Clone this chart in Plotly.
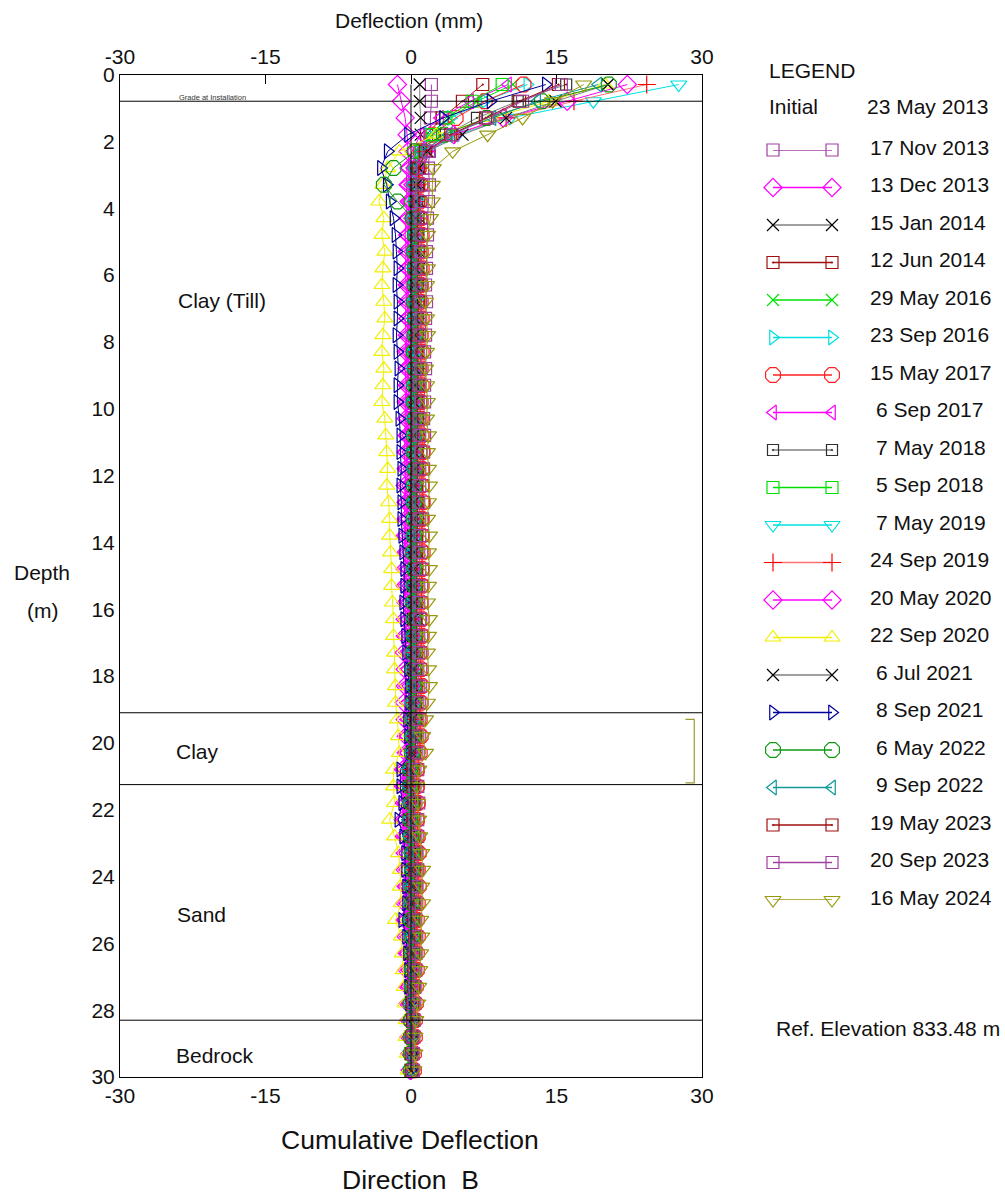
import plotly.graph_objects as go

DEPTH = [0.3, 0.8, 1.3, 1.8, 2.3, 2.8, 3.3, 3.8, 4.3, 4.8,
         5.3, 5.8, 6.3, 6.8, 7.3, 7.8, 8.3, 8.8, 9.3, 9.8,
         10.3, 10.8, 11.3, 11.8, 12.3, 12.8, 13.3, 13.8, 14.3, 14.8,
         15.3, 15.8, 16.3, 16.8, 17.3, 17.8, 18.3, 18.8, 19.3, 19.8,
         20.3, 20.8, 21.3, 21.8, 22.3, 22.8, 23.3, 23.8, 24.3, 24.8,
         25.3, 25.8, 26.3, 26.8, 27.3, 27.8, 28.3, 28.8, 29.3, 29.8]

INITIAL = [0.0] * 60

D_17NOV2013 = [2.1, 2.1, 2.0, 2.0, 1.9, 1.8, 1.9, 1.8, 1.7, 1.7,
               1.6, 1.6, 1.5, 1.6, 1.5, 1.5, 1.4, 1.5, 1.4, 1.4,
               1.3, 1.4, 1.3, 1.3, 1.2, 1.3, 1.2, 1.2, 1.1, 1.2,
               1.1, 1.1, 1.0, 1.1, 1.0, 1.0, 1.0, 0.9, 0.9, 0.9,
               0.8, 0.7, 0.7, 0.8, 0.7, 0.7, 0.6, 0.7, 0.6, 0.6,
               0.5, 0.6, 0.5, 0.5, 0.4, 0.4, 0.3, 0.3, 0.2, 0.2]
D_13DEC2013 = [-1.4, -1.0, -0.6, -0.4, -0.3, -0.2, -0.3, -0.2, -0.3, -0.3,
               -0.4, -0.3, -0.4, -0.4, -0.3, -0.4, -0.5, -0.4, -0.4, -0.5,
               -0.5, -0.4, -0.5, -0.5, -0.6, -0.5, -0.5, -0.6, -0.5, -0.6,
               -0.6, -0.5, -0.6, -0.6, -0.7, -0.6, -0.6, -0.7, -0.6, -0.5,
               -0.5, -0.8, -0.8, -0.7, -0.8, -0.7, -0.6, -0.6, -0.5, -0.6,
               -0.6, -0.5, -0.4, -0.4, -0.3, -0.3, -0.2, -0.2, -0.1, -0.1]
D_15JAN2014 = [0.9, 0.9, 1.0, 1.0, 1.1, 0.9, 0.9, 0.8, 0.9, 0.8,
               0.8, 0.9, 0.8, 0.8, 0.7, 0.8, 0.8, 0.7, 0.8, 0.7,
               0.7, 0.7, 0.8, 0.7, 0.6, 0.7, 0.7, 0.6, 0.7, 0.6,
               0.6, 0.6, 0.7, 0.6, 0.6, 0.5, 0.6, 0.6, 0.5, 0.5,
               0.4, 0.3, 0.3, 0.4, 0.3, 0.4, 0.4, 0.3, 0.4, 0.3,
               0.3, 0.3, 0.3, 0.2, 0.2, 0.2, 0.1, 0.1, 0.1, 0.0]
D_12JUN2014 = [7.4, 5.3, 3.2, 1.6, 0.9, 0.7, 0.8, 0.6, 0.7, 0.6,
               0.7, 0.6, 0.6, 0.7, 0.6, 0.5, 0.6, 0.6, 0.5, 0.6,
               0.6, 0.5, 0.5, 0.6, 0.5, 0.5, 0.6, 0.5, 0.5, 0.5,
               0.5, 0.4, 0.5, 0.5, 0.4, 0.5, 0.4, 0.4, 0.5, 0.4,
               0.3, 0.2, 0.2, 0.3, 0.2, 0.3, 0.3, 0.3, 0.2, 0.3,
               0.2, 0.3, 0.2, 0.2, 0.2, 0.1, 0.1, 0.1, 0.0, 0.0]
D_29MAY2016 = [10.5, 6.8, 3.9, 1.9, 0.8, 0.5, 0.4, 0.5, 0.4, 0.4,
               0.5, 0.4, 0.3, 0.4, 0.4, 0.3, 0.4, 0.3, 0.3, 0.4,
               0.3, 0.3, 0.4, 0.3, 0.3, 0.2, 0.3, 0.3, 0.2, 0.3,
               0.3, 0.2, 0.3, 0.2, 0.2, 0.3, 0.2, 0.2, 0.3, 0.2,
               0.1, 0.0, 0.0, 0.1, 0.0, 0.1, 0.2, 0.1, 0.2, 0.1,
               0.1, 0.2, 0.1, 0.1, 0.1, 0.1, 0.0, 0.1, 0.0, 0.0]
D_23SEP2016 = [12.0, 7.6, 4.1, 1.8, 0.6, 0.2, 0.1, 0.2, 0.3, 0.2,
               0.3, 0.2, 0.2, 0.3, 0.2, 0.2, 0.1, 0.2, 0.2, 0.1,
               0.2, 0.2, 0.1, 0.2, 0.1, 0.1, 0.2, 0.1, 0.1, 0.2,
               0.1, 0.1, 0.0, 0.1, 0.1, 0.0, 0.1, 0.1, 0.0, 0.0,
               -0.1, -0.3, -0.3, -0.2, -0.3, -0.2, -0.1, -0.1, 0.0, -0.1,
               -0.2, 0.0, 0.0, 0.1, 0.0, 0.0, 0.0, 0.0, 0.0, -0.1]
D_15MAY2017 = [11.6, 7.6, 4.6, 2.2, 1.0, 0.8, 1.0, 0.9, 1.0, 1.1,
               1.0, 1.1, 1.0, 1.0, 1.1, 1.0, 1.1, 1.0, 1.1, 1.0,
               1.0, 1.1, 1.2, 1.1, 1.1, 1.2, 1.1, 1.1, 1.2, 1.1,
               1.1, 1.0, 1.1, 1.1, 1.0, 1.0, 1.1, 1.0, 0.9, 1.0,
               0.9, 0.6, 0.6, 0.7, 0.6, 0.7, 0.8, 0.7, 0.8, 0.7,
               0.6, 0.7, 0.6, 0.6, 0.5, 0.5, 0.4, 0.4, 0.3, 0.3]
D_6SEP2017 = [10.0, 6.1, 3.0, 1.0, 0.1, -0.4, -0.5, -0.4, -0.5, -0.6,
              -0.5, -0.6, -0.5, -0.5, -0.6, -0.5, -0.6, -0.6, -0.5, -0.6,
              -0.6, -0.6, -0.7, -0.6, -0.6, -0.7, -0.6, -0.7, -0.6, -0.6,
              -0.7, -0.6, -0.6, -0.7, -0.6, -0.5, -0.6, -0.5, -0.5, -0.6,
              -0.6, -0.9, -0.9, -0.8, -0.9, -0.8, -0.7, -0.6, -0.7, -0.6,
              -0.8, -0.5, -0.5, -0.4, -0.4, -0.3, -0.2, -0.2, -0.1, -0.1]
D_7MAY2018 = [16.0, 11.0, 6.8, 3.6, 1.4, 0.6, 0.5, 0.4, 0.4, 0.5,
              0.4, 0.4, 0.5, 0.4, 0.3, 0.4, 0.4, 0.3, 0.4, 0.4,
              0.3, 0.4, 0.4, 0.3, 0.3, 0.4, 0.3, 0.3, 0.4, 0.3,
              0.3, 0.3, 0.2, 0.3, 0.3, 0.2, 0.3, 0.3, 0.2, 0.2,
              0.1, -0.1, -0.1, 0.0, -0.1, 0.0, 0.1, 0.1, 0.1, 0.0,
              0.0, 0.1, 0.1, 0.0, 0.1, 0.0, 0.0, 0.0, 0.0, 0.0]
D_5SEP2018 = [9.4, 6.3, 3.6, 2.2, 1.0, 0.5, 0.3, 0.4, 0.3, 0.4,
              0.4, 0.3, 0.4, 0.4, 0.3, 0.4, 0.3, 0.4, 0.4, 0.3,
              0.4, 0.4, 0.3, 0.4, 0.4, 0.3, 0.4, 0.4, 0.3, 0.4,
              0.4, 0.3, 0.4, 0.3, 0.3, 0.4, 0.3, 0.3, 0.3, 0.3,
              0.2, 0.0, 0.0, 0.1, 0.0, 0.1, 0.2, 0.2, 0.2, 0.1,
              0.1, 0.2, 0.2, 0.1, 0.1, 0.1, 0.1, 0.0, 0.0, 0.0]
D_7MAY2019 = [27.6, 18.8, 10.2, 4.8, 1.7, 0.8, 0.6, 0.6, 0.5, 0.6,
              0.6, 0.5, 0.6, 0.5, 0.5, 0.6, 0.5, 0.5, 0.6, 0.5,
              0.5, 0.6, 0.5, 0.5, 0.5, 0.6, 0.5, 0.5, 0.5, 0.5,
              0.5, 0.4, 0.5, 0.5, 0.4, 0.4, 0.5, 0.4, 0.4, 0.4,
              0.3, 0.1, 0.1, 0.2, 0.1, 0.2, 0.3, 0.3, 0.3, 0.2,
              0.2, 0.3, 0.2, 0.2, 0.2, 0.1, 0.1, 0.1, 0.0, 0.0]
D_24SEP2019 = [24.3, 16.8, 9.8, 4.5, 1.6, 0.8, 0.6, 0.5, 0.6, 0.5,
               0.6, 0.5, 0.5, 0.6, 0.5, 0.5, 0.4, 0.5, 0.5, 0.4,
               0.5, 0.5, 0.4, 0.5, 0.4, 0.4, 0.5, 0.4, 0.4, 0.4,
               0.4, 0.4, 0.3, 0.4, 0.4, 0.3, 0.4, 0.3, 0.3, 0.3,
               0.2, 0.0, 0.0, 0.1, 0.0, 0.1, 0.2, 0.2, 0.2, 0.1,
               0.1, 0.2, 0.1, 0.1, 0.1, 0.0, 0.0, 0.0, 0.0, 0.0]
D_20MAY2020 = [22.3, 16.1, 9.5, 4.4, 1.4, 0.4, 0.2, 0.1, 0.2, 0.1,
               0.2, 0.1, 0.1, 0.2, 0.1, 0.1, 0.0, 0.1, 0.1, 0.0,
               0.1, 0.0, 0.0, 0.1, 0.0, 0.0, -0.1, 0.0, 0.0, -0.1,
               0.0, -0.1, -0.1, 0.0, -0.1, -0.1, 0.0, -0.1, -0.1, -0.2,
               -0.2, -0.5, -0.5, -0.4, -0.5, -0.4, -0.3, -0.3, -0.2, -0.3,
               -0.4, -0.2, -0.2, -0.1, -0.1, -0.1, 0.0, 0.0, 0.0, 0.0]
D_22SEP2020 = [20.0, 14.2, 8.3, 2.6, -1.2, -2.4, -2.9, -3.3, -2.8, -3.0,
               -2.7, -2.9, -3.0, -2.8, -2.7, -2.9, -3.0, -2.8, -2.9, -3.0,
               -2.7, -2.6, -2.5, -2.4, -2.5, -2.3, -2.2, -2.2, -2.1, -2.0,
               -2.0, -1.9, -1.8, -1.8, -1.7, -1.7, -1.6, -1.6, -1.4, -1.3,
               -1.2, -1.8, -1.8, -1.7, -2.2, -1.7, -1.3, -1.1, -1.1, -1.0,
               -1.6, -1.0, -0.9, -0.8, -0.7, -0.6, -0.5, -0.5, -0.4, -0.3]
D_6JUL2021 = [20.3, 14.9, 9.8, 5.3, 1.7, 0.8, 0.6, 0.5, 0.5, 0.4,
              0.5, 0.4, 0.4, 0.5, 0.4, 0.4, 0.3, 0.4, 0.4, 0.3,
              0.4, 0.3, 0.3, 0.4, 0.3, 0.3, 0.3, 0.2, 0.3, 0.3,
              0.2, 0.3, 0.2, 0.2, 0.3, 0.2, 0.2, 0.2, 0.1, 0.2,
              0.1, -0.2, -0.2, -0.1, -0.2, -0.1, 0.0, 0.0, 0.1, 0.0,
              -0.1, 0.0, 0.0, 0.1, 0.0, 0.0, 0.0, 0.0, 0.0, 0.0]
D_8SEP2021 = [13.9, 8.2, 3.3, -0.3, -2.4, -3.1, -2.5, -2.2, -1.8, -1.6,
              -1.5, -1.4, -1.5, -1.4, -1.4, -1.5, -1.4, -1.3, -1.4, -1.4,
              -1.2, -1.1, -1.1, -1.0, -1.1, -1.0, -1.0, -0.9, -0.8, -0.7,
              -0.7, -0.8, -0.7, -0.6, -0.5, -0.3, -0.2, -0.2, -0.4, -0.3,
              -0.1, -1.1, -1.1, -0.9, -1.3, -0.8, -0.6, -0.6, -0.5, -0.5,
              -0.9, -0.5, -0.4, -0.3, -0.3, -0.2, -0.1, -0.1, 0.0, 0.0]
D_6MAY2022 = [20.4, 13.5, 7.8, 3.4, 0.4, -1.8, -2.8, -1.4, 0.2, 0.4,
              0.3, 0.4, 0.4, 0.3, 0.4, 0.4, 0.3, 0.4, 0.3, 0.3,
              0.4, 0.3, 0.3, 0.4, 0.3, 0.3, 0.3, 0.3, 0.2, 0.3,
              0.3, 0.2, 0.3, 0.3, 0.2, 0.2, 0.3, 0.2, 0.2, 0.2,
              0.1, -0.1, -0.1, 0.0, -0.1, 0.0, 0.1, 0.1, 0.1, 0.1,
              0.0, 0.1, 0.1, 0.1, 0.1, 0.0, 0.0, 0.0, 0.0, 0.0]
D_9SEP2022 = [19.3, 13.0, 8.4, 3.9, 1.1, 0.3, 0.2, 0.3, 0.2, 0.3,
              0.2, 0.2, 0.3, 0.2, 0.2, 0.3, 0.2, 0.2, 0.2, 0.1,
              0.2, 0.2, 0.1, 0.2, 0.2, 0.1, 0.2, 0.1, 0.1, 0.2,
              0.1, 0.1, 0.2, 0.1, 0.1, 0.1, 0.1, 0.0, 0.1, 0.0,
              0.0, -0.3, -0.3, -0.2, -0.3, -0.2, -0.1, 0.0, 0.0, 0.0,
              -0.1, 0.0, 0.0, 0.0, 0.0, 0.0, 0.0, 0.0, 0.0, 0.0]
D_19MAY2023 = [15.2, 11.2, 7.7, 4.1, 1.5, 0.8, 0.7, 0.8, 0.7, 0.7,
               0.8, 0.7, 0.7, 0.8, 0.7, 0.7, 0.6, 0.7, 0.7, 0.6,
               0.7, 0.7, 0.6, 0.7, 0.6, 0.6, 0.7, 0.6, 0.6, 0.6,
               0.6, 0.6, 0.5, 0.6, 0.6, 0.5, 0.6, 0.5, 0.5, 0.5,
               0.4, 0.2, 0.2, 0.3, 0.2, 0.3, 0.4, 0.4, 0.4, 0.3,
               0.3, 0.4, 0.3, 0.3, 0.3, 0.2, 0.2, 0.1, 0.1, 0.1]
D_20SEP2023 = [15.5, 11.5, 7.9, 4.3, 1.8, 1.2, 1.1, 1.0, 1.0, 1.1,
               1.0, 1.0, 1.1, 1.0, 1.0, 0.9, 1.0, 1.0, 0.9, 1.0,
               0.9, 0.9, 1.0, 0.9, 0.9, 0.8, 0.9, 0.9, 0.8, 0.9,
               0.8, 0.8, 0.9, 0.8, 0.8, 0.7, 0.8, 0.7, 0.7, 0.7,
               0.6, 0.4, 0.4, 0.5, 0.4, 0.5, 0.6, 0.6, 0.6, 0.5,
               0.4, 0.5, 0.5, 0.4, 0.4, 0.3, 0.3, 0.2, 0.2, 0.2]
D_16MAY2024 = [17.8, 14.6, 11.5, 7.9, 4.3, 2.3, 2.2, 2.2, 2.0, 1.7,
               1.6, 1.7, 1.6, 1.5, 1.6, 1.7, 1.6, 1.5, 1.6, 1.7,
               1.6, 1.8, 1.7, 1.8, 1.9, 1.8, 1.7, 1.9, 1.8, 1.9,
               1.8, 1.7, 1.9, 1.8, 1.7, 1.8, 1.9, 1.7, 1.5, 1.2,
               1.5, 0.8, 0.6, 0.7, 0.8, 0.9, 1.1, 1.2, 1.1, 1.2,
               1.0, 1.1, 1.0, 0.9, 0.8, 0.7, 0.5, 0.4, 0.4, 0.3]

SERIES_LABELS = ["17 Nov 2013", "13 Dec 2013", "15 Jan 2014", "12 Jun 2014", "29 May 2016",
                 "23 Sep 2016", "15 May 2017", "6 Sep 2017", "7 May 2018", "5 Sep 2018",
                 "7 May 2019", "24 Sep 2019", "20 May 2020", "22 Sep 2020", "6 Jul 2021",
                 "8 Sep 2021", "6 May 2022", "9 Sep 2022", "19 May 2023", "20 Sep 2023",
                 "16 May 2024"]
SERIES_VALUES = [D_17NOV2013, D_13DEC2013, D_15JAN2014, D_12JUN2014, D_29MAY2016,
                 D_23SEP2016, D_15MAY2017, D_6SEP2017, D_7MAY2018, D_5SEP2018,
                 D_7MAY2019, D_24SEP2019, D_20MAY2020, D_22SEP2020, D_6JUL2021,
                 D_8SEP2021, D_6MAY2022, D_9SEP2022, D_19MAY2023, D_20SEP2023,
                 D_16MAY2024]

LAYER_BOUNDARIES = [0.8, 19.1, 21.25, 28.3]
LAYER_NAMES = ["Clay (Till)", "Clay", "Sand", "Bedrock"]
LAYER_LABEL_POS = [(-19.5, 6.75), (-22.0, 20.25), (-21.6, 25.15), (-20.2, 29.37)]
X_TICKS = [-30, -15, 0, 15, 30]
X_TICK_TEXT = ["-30", "-15", "0", "15", "30"]
Y_TICKS = list(range(0, 31, 2))

# marker styles: (symbol, size, marker colour, line colour)
STYLES = [
    ("square-open", 12, "#a040a0", "#a040a0"),
    ("diamond-open", 14, "#ff00ff", "#ff00ff"),
    ("x-thin-open", 12, "#000000", "#808080"),
    ("square-open-dot", 12, "#a01010", "#a01010"),
    ("x-thin-open", 12, "#00e000", "#00e000"),
    ("triangle-right-open", 13, "#00e0e0", "#00e0e0"),
    ("octagon-open", 16, "#ff2020", "#ff2020"),
    ("triangle-left-open", 13, "#ff00ff", "#ff00ff"),
    ("square-open-dot", 11, "#303030", "#808080"),
    ("square-open", 12, "#00e000", "#00e000"),
    ("triangle-down-open", 14, "#00e0e0", "#00e0e0"),
    ("cross-thin-open", 13, "#ff0000", "#ff7070"),
    ("diamond-open", 14, "#ff00ff", "#ff00ff"),
    ("triangle-up-open", 14, "#f0f000", "#f0f000"),
    ("x-thin-open", 12, "#000000", "#808080"),
    ("triangle-right-open", 13, "#000099", "#000099"),
    ("octagon-open", 16, "#109910", "#109910"),
    ("triangle-left-open", 13, "#109999", "#109999"),
    ("square-open-dot", 12, "#a01010", "#a01010"),
    ("square-open", 12, "#a040a0", "#a040a0"),
    ("triangle-down-open", 14, "#999910", "#999910"),
]

W, H = 1005, 1197
FONT = "Liberation Sans, Arial, sans-serif"
PX_L, PX_R, PX_T, PX_B = 120, 702, 74.5, 1077

def px(x):
    return x / W

def py(y):
    return 1 - y / H

fig = go.Figure()

fig.add_trace(go.Scatter(x=INITIAL, y=DEPTH, xaxis="x3", yaxis="y", mode="lines",
                         line=dict(color="#000000", width=1), showlegend=False,
                         hoverinfo="skip"))

for label, vals, (sym, size, mcol, lcol) in zip(SERIES_LABELS, SERIES_VALUES, STYLES):
    fig.add_trace(go.Scatter(
        x=vals, y=DEPTH, xaxis="x", yaxis="y", mode="lines+markers", name=label,
        line=dict(color=lcol, width=1),
        marker=dict(symbol=sym, size=size, color=mcol, line=dict(color=mcol, width=1.2)),
        showlegend=False, cliponaxis=False))

# custom legend (symbol - line - symbol)
n = len(SERIES_LABELS)
for k, (label, (sym, size, mcol, lcol)) in enumerate(zip(SERIES_LABELS, STYLES)):
    fig.add_trace(go.Scatter(
        x=[0, 1], y=[k, k], xaxis="x2", yaxis="y2", mode="lines+markers",
        line=dict(color=lcol, width=1.3),
        marker=dict(symbol=sym, size=size, color=mcol, line=dict(color=mcol, width=1.2)),
        showlegend=False, cliponaxis=False, hoverinfo="skip"))

annotations = []
for k, label in enumerate(SERIES_LABELS):
    xoff = 874 if len(label.split()[0]) == 1 else 868
    annotations.append(dict(x=px(xoff), xref="paper", y=k, yref="y2", text=label,
                            showarrow=False, xanchor="left", yanchor="middle", yshift=3,
                            font=dict(family=FONT, size=21, color="#111")))

def txt(x, y, s, size=21, xanchor="center"):
    annotations.append(dict(x=px(x), y=py(y), xref="paper", yref="paper", text=s,
                            showarrow=False, xanchor=xanchor, yanchor="middle",
                            font=dict(family=FONT, size=size, color="#111")))

txt(767, 70, "LEGEND", xanchor="left")
txt(767, 107, "Initial", xanchor="left")
txt(865, 107, "23 May 2013", xanchor="left")
txt(774, 1028, "Ref. Elevation 833.48 m", xanchor="left")
txt(409, 20, "Deflection (mm)")
txt(42, 572, "Depth")
txt(42, 610, "(m)")
txt(410, 1140, "Cumulative Deflection", size=26.5)
txt(410, 1180, "Direction  B", size=26.5)

for name, (lx, ly) in zip(LAYER_NAMES, LAYER_LABEL_POS):
    annotations.append(dict(x=lx, y=ly, xref="x", yref="y", text=name, showarrow=False,
                            font=dict(family=FONT, size=21, color="#111")))
annotations.append(dict(x=-20.5, y=LAYER_BOUNDARIES[0], xref="x", yref="y",
                        text="Grade at Installation", showarrow=False, yanchor="bottom",
                        yshift=-3, font=dict(family=FONT, size=7.5, color="#333")))

shapes = []
for d in LAYER_BOUNDARIES:
    shapes.append(dict(type="line", xref="x domain", yref="y", x0=0, x1=1, y0=d, y1=d,
                       line=dict(color="#000000", width=1)))
# bracket marking the clay layer on the right
shapes.append(dict(type="path", xref="x", yref="y",
                   path="M 28.3 19.3 L 29.2 19.3 L 29.2 21.2 L 28.3 21.2",
                   line=dict(color="#9a9a30", width=1.2)))

tickfont = dict(family=FONT, size=21, color="#111")
fig.update_layout(
    template="none",
    width=W, height=H, margin=dict(l=0, r=0, t=0, b=0, pad=0),
    paper_bgcolor="white", plot_bgcolor="white",
    font=dict(family=FONT, color="#111"),
    annotations=annotations, shapes=shapes,
    xaxis=dict(domain=[px(PX_L), px(PX_R)], range=[-30, 30], anchor="y", automargin=False,
               tickvals=X_TICKS, ticktext=X_TICK_TEXT, ticks="",
               showline=True, mirror=True, linecolor="#000", linewidth=1,
               showgrid=False, zeroline=False, tickfont=tickfont),
    xaxis3=dict(overlaying="x", matches="x", side="top", anchor="y", range=[-30, 30],
                automargin=False, tickvals=X_TICKS, ticktext=X_TICK_TEXT,
                ticks="inside", ticklen=9, tickcolor="#000", ticklabelstandoff=5,
                showline=False, showgrid=False, zeroline=False, tickfont=tickfont),
    yaxis=dict(domain=[py(PX_B), py(PX_T)], range=[30, 0], anchor="x", automargin=False,
               tickvals=Y_TICKS, ticks="", showline=True, mirror=True,
               linecolor="#000", linewidth=1, showgrid=False, zeroline=False,
               tickfont=tickfont),
    yaxis3=dict(overlaying="y", matches="y", side="right", anchor="x", range=[30, 0],
                automargin=False, tickvals=Y_TICKS, ticks="inside", ticklen=12,
                tickcolor="#000", showline=False, showgrid=False, zeroline=False,
                tickfont=tickfont),
    xaxis2=dict(domain=[px(773), px(832)], range=[0, 1], anchor="y2", visible=False,
                automargin=False),
    yaxis2=dict(domain=[py(900), py(150)], range=[n - 1, 0], anchor="x2", visible=False,
                automargin=False),
)

fig.write_html("out.html")
